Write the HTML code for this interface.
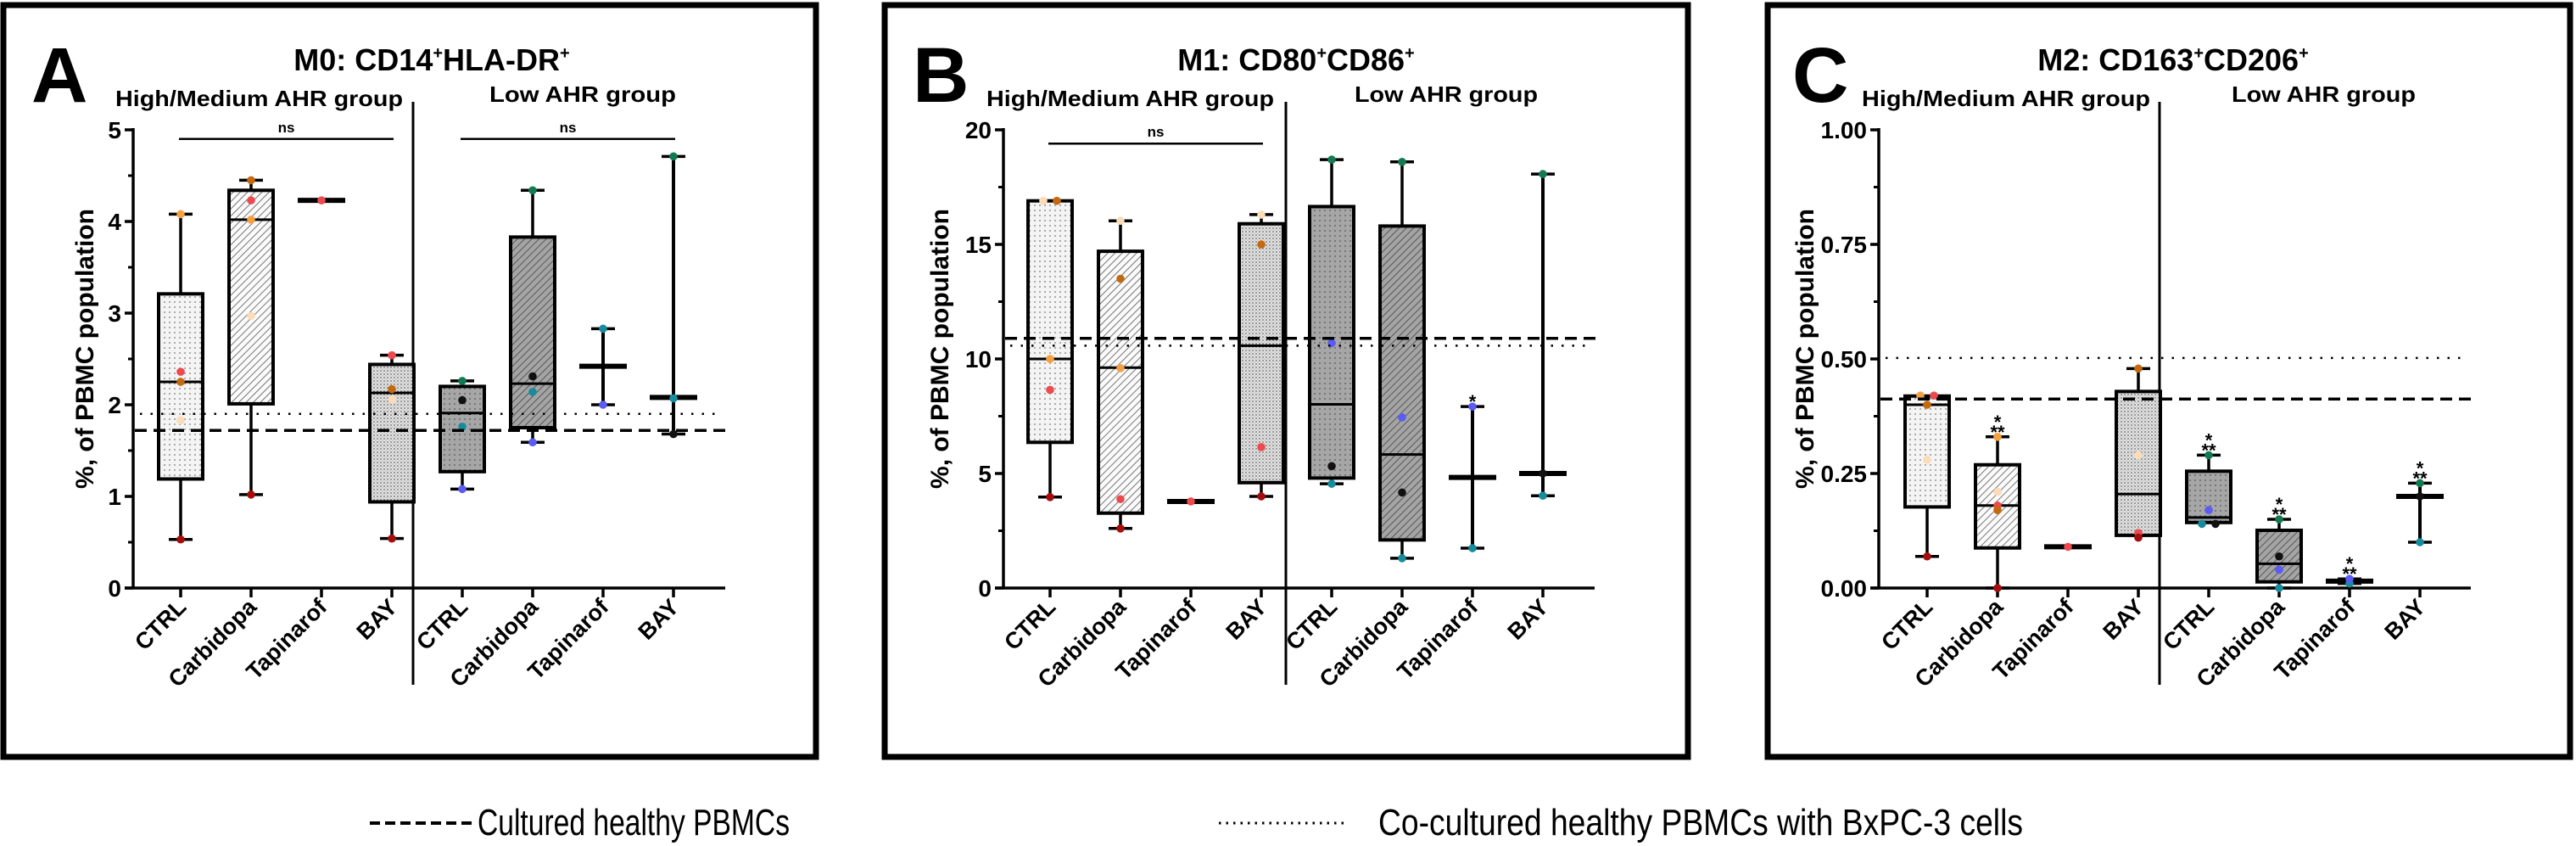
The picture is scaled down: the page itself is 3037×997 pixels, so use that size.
<!DOCTYPE html>
<html><head><meta charset="utf-8"><style>
html,body{margin:0;padding:0;background:#fff;}
svg{display:block;font-family:"Liberation Sans",Arial,sans-serif;}
</style></head><body>
<svg id="fig" width="3037" height="997" viewBox="0 0 3037 997" xmlns="http://www.w3.org/2000/svg">
<defs>
<pattern id="dotLight" width="6" height="6" patternUnits="userSpaceOnUse"><rect width="6" height="6" fill="#f4f4f4"/><circle cx="2" cy="2" r="0.9" fill="#777"/></pattern>
<pattern id="dotDense" width="4" height="4" patternUnits="userSpaceOnUse"><rect width="4" height="4" fill="#e2e2e2"/><circle cx="1" cy="1" r="0.9" fill="#666"/><circle cx="3" cy="3" r="0.6" fill="#999"/></pattern>
<pattern id="hatchLight" width="6" height="6" patternUnits="userSpaceOnUse" patternTransform="rotate(45)"><rect width="6" height="6" fill="#fafafa"/><line x1="0" y1="0" x2="0" y2="6" stroke="#555" stroke-width="1.6"/></pattern>
<pattern id="dotDark" width="6" height="6" patternUnits="userSpaceOnUse"><rect width="6" height="6" fill="#a6a6a6"/><circle cx="2" cy="2" r="0.9" fill="#555"/></pattern>
<pattern id="hatchDark" width="6" height="6" patternUnits="userSpaceOnUse" patternTransform="rotate(45)"><rect width="6" height="6" fill="#a4a4a4"/><line x1="0" y1="0" x2="0" y2="6" stroke="#444" stroke-width="1.6"/></pattern>
</defs>
</svg>
<script>
// ---------- shared categories ----------
const categories = ["CTRL","Carbidopa","Tapinarof","BAY","CTRL","Carbidopa","Tapinarof","BAY"];
const kinds = ["box","box","single","box","box","box","bar","bar"];
const fills = ["url(#dotLight)","url(#hatchLight)","none","url(#dotDense)","url(#dotDark)","url(#hatchDark)","none","none"];

// ---------- Panel A data ----------
const aTicks = [0,1,2,3,4,5];
const aTickLabels = ["0","1","2","3","4","5"];
const aLow  = [0.53,1.02,null,0.54,1.08,1.59,2.00,1.68];
const aQ1   = [1.19,2.01,null,0.94,1.27,1.75,null,null];
const aMed  = [2.25,4.02,4.23,2.13,1.91,2.23,2.42,2.08];
const aQ3   = [3.21,4.34,null,2.44,2.20,3.83,null,null];
const aHigh = [4.08,4.45,null,2.54,2.26,4.34,2.83,4.71];
const aPoints = [[4.08,2.36,2.25,1.83,0.53],[4.45,4.23,4.02,2.97,1.02],[4.23],[2.54,2.17,2.06,0.54],[2.26,2.05,1.76,1.08],[4.34,2.31,2.14,1.59],[2.83,2.00],[4.71,2.07,1.68]];
const aDashed = 1.72, aDotted = 1.90;
const aNs = [[0,3,4.9],[4,7,4.9]];
const aStars = [null,null,null,null,null,null,null,null];

// ---------- Panel B data ----------
const bTicks = [0,5,10,15,20];
const bTickLabels = ["0","5","10","15","20"];
const bLow  = [3.97,2.60,null,4.00,4.55,1.30,1.74,4.03];
const bQ1   = [6.36,3.27,null,4.60,4.80,2.10,null,null];
const bMed  = [10.0,9.62,3.78,10.58,8.02,5.83,4.83,5.00];
const bQ3   = [16.9,14.7,null,15.9,16.65,15.8,null,null];
const bHigh = [16.9,16.03,null,16.3,18.7,18.6,7.92,18.07];
const bPoints = [[16.9,16.9,10.0,8.65,3.97],[16.03,13.5,9.6,3.88,2.6],[3.78],[16.3,15.0,6.15,4.0],[18.7,10.69,5.32,4.55],[18.6,7.45,4.17,1.3],[7.92,1.74],[18.07,5.0,4.03]];
const bDashed = 10.9, bDotted = 10.58;
const bNs = [[0,3,19.4]];
const bStars = [null,null,null,null,null,null,["*"],null];

// ---------- Panel C data ----------
const cTicks = [0,0.25,0.5,0.75,1.0];
const cTickLabels = ["0.00","0.25","0.50","0.75","1.00"];
const cLow  = [0.069,0.0,null,0.115,0.143,0.0,0.010,0.10];
const cQ1   = [0.177,0.0875,null,0.115,0.143,0.0135,null,null];
const cMed  = [0.40,0.18,0.09,0.205,0.154,0.053,0.015,0.20];
const cQ3   = [0.419,0.269,null,0.429,0.255,0.126,null,null];
const cHigh = [0.419,0.33,null,0.479,0.29,0.15,0.020,0.229];
const cPoints = [[0.42,0.42,0.40,0.28,0.069],[0.33,0.21,0.18,0.17,0.0],[0.09],[0.479,0.29,0.12,0.11],[0.29,0.17,0.14,0.14],[0.15,0.069,0.04,0.0],[0.01,0.02],[0.229,0.20,0.10]];
const cDashed = 0.4125, cDotted = 0.502;
const cNs = [];
const cStars = [null,["*","**"],null,null,["*","**"],["*","**"],["*","**"],["*","**"]];

const OR="#f5a142",RD="#ec4a4f",BR="#c4690f",PE="#fbdcb8",DR="#a30d0d",GR="#127a52",TE="#178c9c",BL="#5b5bf5",BK="#111";
const pointColorsA = [[OR,RD,BR,PE,DR],[BR,RD,OR,PE,DR],[RD],[RD,BR,PE,DR],[GR,BK,TE,BL],[GR,BK,TE,BL],[TE,BL],[GR,TE,BK]];
const pointColorsB = [[PE,BR,OR,RD,DR],[PE,BR,OR,RD,DR],[RD],[PE,BR,RD,DR],[GR,BL,BK,TE],[GR,BL,BK,TE],[BL,TE],[GR,BK,TE]];
const pointColorsC = [[OR,RD,BR,PE,DR],[OR,PE,RD,BR,DR],[RD],[BR,PE,RD,DR],[GR,BL,TE,BK],[GR,BK,BL,TE],[TE,BL],[GR,BK,TE]];

const NS="http://www.w3.org/2000/svg";
const svg=document.getElementById('fig');
function mk(tag,attrs,parent,text){const e=document.createElementNS(NS,tag);for(const k in attrs)e.setAttribute(k,attrs[k]);if(text!==undefined)e.textContent=text;(parent||svg).appendChild(e);return e;}

function panel(cfg){
  const g=mk('g',{});
  
  
  const y0=693,y1=153;
  const ymax=cfg.ticks[cfg.ticks.length-1];
  const Y=v=>y0-(v/ymax)*(y0-y1);
  const X=i=>cfg.cat0+i*83;
  const fr=mk('rect',{x:cfg.frame[0],y:cfg.frame[1],width:cfg.frame[2]-cfg.frame[0],height:cfg.frame[3]-cfg.frame[1],fill:'none',stroke:'#000','stroke-width':7},g);
  
  
  const L=mk('text',{x:cfg.letterX,y:120,'font-size':92,'font-weight':'bold'},g,cfg.letter);
  
  
  const t=mk('text',{x:cfg.titleX,y:83,'font-size':36,'font-weight':'bold','text-anchor':'middle'},g);
  
  
  cfg.title.forEach(p=>{mk('tspan',p[1]?{'font-size':20,dy:-14}:{dy:p[2]||0},t,p[0]);});
  const gh=mk('text',{x:cfg.hiX[0],y:125,'font-size':26,'font-weight':'bold',textLength:cfg.hiX[1]-cfg.hiX[0],lengthAdjust:'spacingAndGlyphs'},g,'High/Medium AHR group');
  
  
  const gl=mk('text',{x:cfg.loX[0],y:120,'font-size':26,'font-weight':'bold',textLength:cfg.loX[1]-cfg.loX[0],lengthAdjust:'spacingAndGlyphs'},g,'Low AHR group');
  
  
  const yt=mk('text',{x:0,y:0,'font-size':30,'font-weight':'bold','text-anchor':'middle',transform:`translate(${cfg.ytX},${(y0+y1)/2-12}) rotate(-90)`},g,'%, of PBMC population');
  
  
  const ya=mk('line',{x1:cfg.yAxisX,y1:y1-2,x2:cfg.yAxisX,y2:y0+1.5,stroke:'#000','stroke-width':3.5},g);
  
  
  const xa=mk('line',{x1:cfg.yAxisX-10,y1:y0,x2:cfg.axisEnd,y2:y0,stroke:'#000','stroke-width':3.5},g);
  
  
  cfg.ticks.forEach((v,i)=>{
    mk('line',{x1:cfg.yAxisX-10,y1:Y(v),x2:cfg.yAxisX,y2:Y(v),stroke:'#000','stroke-width':3.5},g);
    const tl=mk('text',{x:cfg.yAxisX-14,y:Y(v)+10,'font-size':28,'font-weight':'bold','text-anchor':'end'},g,cfg.tickLabels[i]);
    
    
    if(i<cfg.ticks.length-1){const m=(v+cfg.ticks[i+1])/2;mk('line',{x1:cfg.yAxisX-6,y1:Y(m),x2:cfg.yAxisX,y2:Y(m),stroke:'#000','stroke-width':3},g);}
  });
  categories.forEach((c,i)=>{
    mk('line',{x1:X(i),y1:y0,x2:X(i),y2:y0+11,stroke:'#000','stroke-width':3.5},g);
    const xl=mk('text',{x:0,y:0,'font-size':27,'font-weight':'bold','text-anchor':'end',transform:`translate(${X(i)+8},${y0+24}) rotate(-45)`},g,c);
    
    
  });
  const dv=mk('line',{x1:cfg.divider,y1:120,x2:cfg.divider,y2:807,stroke:'#000','stroke-width':3},g);
  
  
  categories.forEach((c,i)=>{
    const x=X(i),k=kinds[i];
    const bg=mk('g',{},g);
    
    
    if(k==='box'){
      mk('line',{x1:x,y1:Y(cfg.high[i]),x2:x,y2:Y(cfg.low[i]),stroke:'#000','stroke-width':3.5},bg);
      mk('line',{x1:x-14,y1:Y(cfg.high[i]),x2:x+14,y2:Y(cfg.high[i]),stroke:'#000','stroke-width':3.5},bg);
      mk('line',{x1:x-14,y1:Y(cfg.low[i]),x2:x+14,y2:Y(cfg.low[i]),stroke:'#000','stroke-width':3.5},bg);
      mk('rect',{x:x-26,y:Y(cfg.q3[i]),width:52,height:Math.max(1,Y(cfg.q1[i])-Y(cfg.q3[i])),fill:fills[i],stroke:'#000','stroke-width':4},bg);
      mk('line',{x1:x-26,y1:Y(cfg.med[i]),x2:x+26,y2:Y(cfg.med[i]),stroke:'#000','stroke-width':3},bg);
    } else if(k==='bar'){
      mk('line',{x1:x,y1:Y(cfg.high[i]),x2:x,y2:Y(cfg.low[i]),stroke:'#000','stroke-width':4},bg);
      mk('line',{x1:x-14,y1:Y(cfg.high[i]),x2:x+14,y2:Y(cfg.high[i]),stroke:'#000','stroke-width':3.5},bg);
      mk('line',{x1:x-14,y1:Y(cfg.low[i]),x2:x+14,y2:Y(cfg.low[i]),stroke:'#000','stroke-width':3.5},bg);
      mk('line',{x1:x-28,y1:Y(cfg.med[i]),x2:x+28,y2:Y(cfg.med[i]),stroke:'#000','stroke-width':6},bg);
    } else {
      mk('line',{x1:x-28,y1:Y(cfg.med[i]),x2:x+28,y2:Y(cfg.med[i]),stroke:'#000','stroke-width':6},bg);
    }
    const pts=cfg.points[i];
    pts.forEach((v,j)=>{
      let dx=0;
      if(j>0&&Math.abs(pts[j-1]-v)<ymax*0.006)dx=8;
      if(j<pts.length-1&&Math.abs(pts[j+1]-v)<ymax*0.006)dx=-8;
      const p=mk('circle',{cx:x+dx,cy:Y(v),r:4.8,fill:cfg.colors[i][j]},bg);
      
      
    });
    if(cfg.stars[i]){
      const top=Y(cfg.high[i]!==null?cfg.high[i]:cfg.med[i]);
      const s=cfg.stars[i];
      s.forEach((st,j)=>{
        const tx=mk('text',{x:x,y:top-8-(s.length-1-j)*12+10,'font-size':22,'font-weight':'bold','text-anchor':'middle'},bg,st);
        
        
      });
    }
  });
  const dl=mk('line',{x1:cfg.yAxisX+2,y1:Y(cfg.dashed),x2:cfg.axisEnd+3,y2:Y(cfg.dashed),stroke:'#000','stroke-width':3.5,'stroke-dasharray':'14 8'},g);
  
  
  const ol=mk('line',{x1:cfg.yAxisX+8,y1:Y(cfg.dotted),x2:cfg.axisEnd-10,y2:Y(cfg.dotted),stroke:'#000','stroke-width':2.5,'stroke-dasharray':'2.5 10'},g);
  
  
  cfg.ns.forEach(n=>{
    const nl=mk('line',{x1:X(n[0])-2,y1:Y(n[2]),x2:X(n[1])+2,y2:Y(n[2]),stroke:'#000','stroke-width':2.5},g);
    
    
    const nt=mk('text',{x:(X(n[0])+X(n[1]))/2,y:Y(n[2])-8,'font-size':17,'font-weight':'bold','text-anchor':'middle'},g,'ns');
    
    
  });
}

panel({name:'panel-a-m0',letter:'A',letterX:37,frame:[4,6,962,892],titleX:509,
  title:[['M0: CD14'],['+',1],['HLA-DR',0,14],['+',1]],hiX:[136,475],loX:[577,797],ytX:110,
  yAxisX:157,cat0:213,divider:487,axisEnd:855,ticks:aTicks,tickLabels:aTickLabels,
  low:aLow,q1:aQ1,med:aMed,q3:aQ3,high:aHigh,points:aPoints,colors:pointColorsA,dashed:aDashed,dotted:aDotted,ns:aNs,stars:aStars});
panel({name:'panel-b-m1',letter:'B',letterX:1076,frame:[1043,6,1990,892],titleX:1528,
  title:[['M1: CD80'],['+',1],['CD86',0,14],['+',1]],hiX:[1163,1502],loX:[1597,1813],ytX:1118,
  yAxisX:1183,cat0:1238,divider:1516,axisEnd:1880,ticks:bTicks,tickLabels:bTickLabels,
  low:bLow,q1:bQ1,med:bMed,q3:bQ3,high:bHigh,points:bPoints,colors:pointColorsB,dashed:bDashed,dotted:bDotted,ns:bNs,stars:bStars});
panel({name:'panel-c-m2',letter:'C',letterX:2113,frame:[2084,6,3030,892],titleX:2562,
  title:[['M2: CD163'],['+',1],['CD206',0,14],['+',1]],hiX:[2195,2535],loX:[2631,2848],ytX:2138,
  yAxisX:2215,cat0:2272,divider:2546,axisEnd:2913,ticks:cTicks,tickLabels:cTickLabels,
  low:cLow,q1:cQ1,med:cMed,q3:cQ3,high:cHigh,points:cPoints,colors:pointColorsC,dashed:cDashed,dotted:cDotted,ns:cNs,stars:cStars});

const lg=mk('g',{});


const l1=mk('line',{x1:436,y1:970,x2:560,y2:970,stroke:'#000','stroke-width':4,'stroke-dasharray':'12 6'},lg);


const t1=mk('text',{x:563,y:984,'font-size':44,textLength:368,lengthAdjust:'spacingAndGlyphs'},lg,'Cultured healthy PBMCs');


const l2=mk('line',{x1:1437,y1:970,x2:1585,y2:970,stroke:'#000','stroke-width':3,'stroke-dasharray':'2.5 6'},lg);


const t2=mk('text',{x:1625,y:984,'font-size':44,textLength:760,lengthAdjust:'spacingAndGlyphs'},lg,'Co-cultured healthy PBMCs with BxPC-3 cells');


</script>
</body></html>
